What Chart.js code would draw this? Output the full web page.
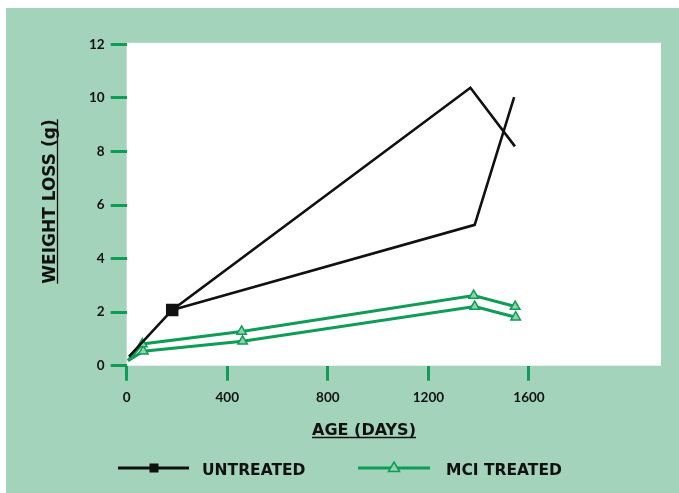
<!DOCTYPE html>
<html>
<head>
<meta charset="utf-8">
<script src="https://cdn.jsdelivr.net/npm/chart.js@4.4.1/dist/chart.umd.min.js"></script>
<style>
  html, body { margin: 0; padding: 0; background: #fff; }
  #box { position: absolute; left: 6px; top: 8px; width: 673px; height: 485px; background: #a4d3bb; }
</style>
</head>
<body>
<div id="box"><canvas id="weightChart"></canvas></div>
<script>
// untreated: one line splits after the marked point into two branches
const untreatedAgeA = [9, 181, 1367, 1544];
const untreatedLossA = [0.34, 2.08, 10.38, 8.19];
const untreatedAgeB = [181, 1384, 1541];
const untreatedLossB = [2.08, 5.26, 10.03];

// MCI treated: two lines
const mciAgeA = [5, 62, 457, 1380, 1545];
const mciLossA = [0.19, 0.81, 1.28, 2.62, 2.21];
const mciAgeB = [5, 66, 461, 1384, 1547];
const mciLossB = [0.19, 0.54, 0.91, 2.21, 1.81];

const xTicks = [0, 400, 800, 1200, 1600];
const yTicks = [0, 2, 4, 6, 8, 10, 12];

const legendLabels = ['UNTREATED', 'MCI TREATED'];
const xTitle = 'AGE (DAYS)';
const yTitle = 'WEIGHT LOSS (g)';

const green = '#0e9c57';
const lightGreen = '#8fd3aa';
const tickFont = 'Lato, "Open Sans", sans-serif';
const textFont = '"DejaVu Sans", "Open Sans", sans-serif';

const pts = (xs, ys) => xs.map((x, i) => ({ x: x, y: ys[i] }));

const plotArea = {
    id: 'plotArea',
    beforeDraw(chart) {
        const a = chart.chartArea, ctx = chart.ctx;
        ctx.save();
        ctx.fillStyle = '#ffffff';
        ctx.fillRect(a.left, a.top - 1.5, a.right - a.left, a.bottom - a.top + 1.5);
        ctx.restore();
    },
    afterDraw(chart) {
        const ctx = chart.ctx;
        ctx.save();
        ctx.fillStyle = '#111';
        ctx.strokeStyle = '#111';
        ctx.lineWidth = 1.3;

        // x title, underlined
        ctx.font = 'bold 16px ' + textFont;
        ctx.textAlign = 'center';
        ctx.textBaseline = 'alphabetic';
        let w = ctx.measureText(xTitle).width;
        ctx.fillText(xTitle, 358, 427);
        ctx.beginPath(); ctx.moveTo(358 - w / 2, 429.5); ctx.lineTo(358 + w / 2, 429.5); ctx.stroke();

        // y title, rotated and underlined
        ctx.font = 'bold 17px ' + textFont;
        ctx.translate(49, 193.5);
        ctx.rotate(-Math.PI / 2);
        w = ctx.measureText(yTitle).width;
        ctx.fillText(yTitle, 0, 0);
        ctx.beginPath(); ctx.moveTo(-w / 2, 2.5); ctx.lineTo(w / 2, 2.5); ctx.stroke();
        ctx.setTransform(1, 0, 0, 1, 0, 0);
        ctx.restore();

        // legend
        ctx.save();
        const ly = 460;
        ctx.lineWidth = 3;
        ctx.strokeStyle = '#111';
        ctx.beginPath(); ctx.moveTo(112, ly); ctx.lineTo(183, ly); ctx.stroke();
        ctx.fillStyle = '#111';
        ctx.fillRect(148 - 4.5, ly - 4.5, 9, 9);

        ctx.strokeStyle = green;
        ctx.beginPath(); ctx.moveTo(352, ly); ctx.lineTo(424, ly); ctx.stroke();
        ctx.lineWidth = 1.5;
        ctx.fillStyle = lightGreen;
        ctx.beginPath();
        ctx.moveTo(388, ly - 6); ctx.lineTo(393.5, ly + 3.5); ctx.lineTo(382.5, ly + 3.5); ctx.closePath();
        ctx.fill(); ctx.stroke();

        ctx.fillStyle = '#111';
        ctx.font = 'bold 15.5px ' + textFont;
        ctx.textAlign = 'left';
        ctx.textBaseline = 'alphabetic';
        ctx.fillText(legendLabels[0], 196, 467);
        ctx.fillText(legendLabels[1], 440, 467);
        ctx.restore();
    }
};

const blackLine = {
    borderColor: '#111', borderWidth: 2.6, tension: 0,
    pointStyle: 'rect', backgroundColor: '#111', borderJoinStyle: 'miter'
};
const greenLine = {
    borderColor: green, borderWidth: 3, tension: 0,
    pointStyle: 'triangle', pointBackgroundColor: lightGreen,
    pointBorderColor: green, pointBorderWidth: 1.5,
    pointRadius: c => c.dataIndex === 0 ? 0 : 5.5
};

const tickOpts = {
    color: '#111',
    font: { family: tickFont, weight: 'bold', size: 13.5 },
    callback: v => String(v)
};

new Chart(document.getElementById('weightChart'), {
    type: 'line',
    data: {
        datasets: [
            Object.assign({ label: 'UNTREATED', data: pts(untreatedAgeA, untreatedLossA),
                pointRadius: c => c.dataIndex === 1 ? 7 : 0 }, blackLine),
            Object.assign({ label: 'UNTREATED', data: pts(untreatedAgeB, untreatedLossB),
                pointRadius: 0 }, blackLine),
            Object.assign({ label: 'MCI TREATED', data: pts(mciAgeA, mciLossA) }, greenLine),
            Object.assign({ label: 'MCI TREATED', data: pts(mciAgeB, mciLossB) }, greenLine)
        ]
    },
    options: {
        responsive: true,
        maintainAspectRatio: false,
        animation: false,
        layout: { padding: { left: 0, top: 36.3, right: 18, bottom: 67.3 } },
        plugins: { legend: { display: false }, tooltip: { enabled: false } },
        scales: {
            x: {
                type: 'linear', min: 0, max: 2125,
                afterBuildTicks: s => { s.ticks = xTicks.map(v => ({ value: v })); },
                afterFit: s => { s.height = 60; },
                grid: { drawOnChartArea: false, drawTicks: true, tickLength: 15, color: green, lineWidth: 3 },
                border: { display: false },
                ticks: Object.assign({ padding: 9 }, tickOpts)
            },
            y: {
                type: 'linear', min: 0, max: 12,
                afterBuildTicks: s => { s.ticks = yTicks.map(v => ({ value: v })); },
                afterFit: s => { s.width = 120.7; },
                grid: { drawOnChartArea: false, drawTicks: true, tickLength: 16, color: green, lineWidth: 3 },
                border: { display: false },
                ticks: Object.assign({ padding: 6 }, tickOpts)
            }
        }
    },
    plugins: [plotArea]
});
</script>
</body>
</html>
